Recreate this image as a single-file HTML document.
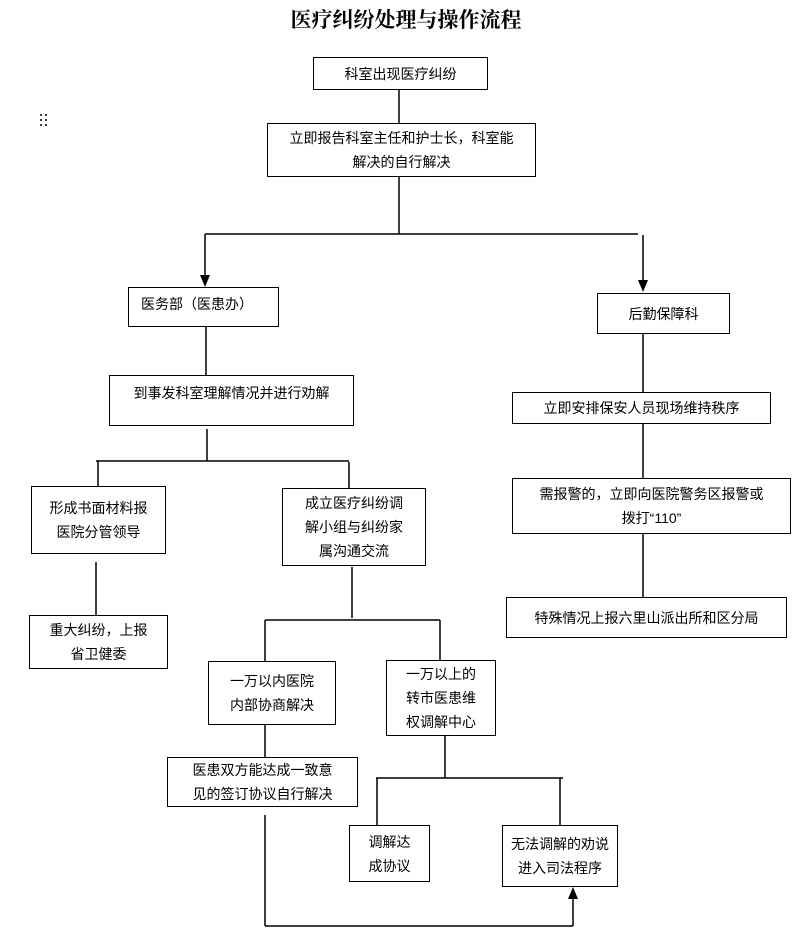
<!DOCTYPE html>
<html><head><meta charset="utf-8"><style>
body{margin:0;width:812px;height:932px;background:#fff;position:relative;overflow:hidden;font-family:"Liberation Sans","Noto Sans CJK SC","WenQuanYi Zen Hei",sans-serif;}
.b{position:absolute;border:1.5px solid #000;box-sizing:border-box;display:flex;align-items:center;justify-content:center;text-align:center;font-size:14px;line-height:24px;color:#000;background:#fff;}
.t{position:absolute;left:0;width:812px;top:4px;text-align:center;font-family:"Liberation Serif","Noto Serif CJK SC",serif;font-weight:bold;font-size:21px;}
svg{position:absolute;left:0;top:0;z-index:2;pointer-events:none;}
</style></head><body>
<div class="t">医疗纠纷处理与操作流程</div>
<div class="b" style="left:313px;top:57px;width:175px;height:33px;">科室出现医疗纠纷</div>
<div class="b" style="left:267px;top:123px;width:269px;height:54px;">立即报告科室主任和护士长，科室能<br>解决的自行解决</div>
<div class="b" style="left:128px;top:287px;width:151px;height:40px;justify-content:flex-start;padding-left:12px;align-items:flex-start;padding-top:4px;">医务部（医患办）</div>
<div class="b" style="left:597px;top:293px;width:133px;height:41px;">后勤保障科</div>
<div class="b" style="left:109px;top:375px;width:245px;height:51px;align-items:flex-start;padding-top:5px;">到事发科室理解情况并进行劝解</div>
<div class="b" style="left:31px;top:486px;width:135px;height:68px;">形成书面材料报<br>医院分管领导</div>
<div class="b" style="left:282px;top:488px;width:144px;height:78px;">成立医疗纠纷调<br>解小组与纠纷家<br>属沟通交流</div>
<div class="b" style="left:29px;top:615px;width:139px;height:54px;">重大纠纷，上报<br>省卫健委</div>
<div class="b" style="left:208px;top:661px;width:128px;height:64px;">一万以内医院<br>内部协商解决</div>
<div class="b" style="left:386px;top:660px;width:110px;height:76px;">一万以上的<br>转市医患维<br>权调解中心</div>
<div class="b" style="left:167px;top:757px;width:191px;height:50px;">医患双方能达成一致意<br>见的签订协议自行解决</div>
<div class="b" style="left:349px;top:825px;width:81px;height:57px;">调解达<br>成协议</div>
<div class="b" style="left:502px;top:825px;width:116px;height:62px;">无法调解的劝说<br>进入司法程序</div>
<div class="b" style="left:512px;top:392px;width:259px;height:32px;">立即安排保安人员现场维持秩序</div>
<div class="b" style="left:512px;top:478px;width:279px;height:56px;">需报警的，立即向医院警务区报警或<br>拨打“110”</div>
<div class="b" style="left:506px;top:597px;width:281px;height:41px;">特殊情况上报六里山派出所和区分局</div>
<svg width="812" height="932">
<g stroke="#000" stroke-width="1.5" fill="none">
<line x1="399" y1="89" x2="399" y2="123"/>
<line x1="399" y1="176" x2="399" y2="234"/>
<line x1="205" y1="234" x2="638" y2="234"/>
<line x1="205" y1="234" x2="205" y2="278"/>
<line x1="643" y1="235" x2="643" y2="282"/>
<line x1="206" y1="326" x2="206" y2="375"/>
<line x1="207" y1="429" x2="207" y2="461"/>
<line x1="96" y1="461" x2="349" y2="461"/>
<line x1="98" y1="461" x2="98" y2="486"/>
<line x1="349" y1="462" x2="349" y2="488"/>
<line x1="96" y1="562" x2="96" y2="615"/>
<line x1="352" y1="567" x2="352" y2="618"/>
<line x1="265" y1="620" x2="440" y2="620"/>
<line x1="265" y1="620" x2="265" y2="661"/>
<line x1="440" y1="620" x2="440" y2="660"/>
<line x1="265" y1="724" x2="265" y2="757"/>
<line x1="445" y1="735" x2="445" y2="778"/>
<line x1="376" y1="778" x2="563" y2="778"/>
<line x1="377" y1="778" x2="377" y2="825"/>
<line x1="560" y1="778" x2="560" y2="825"/>
<line x1="265" y1="815" x2="265" y2="926"/>
<line x1="265" y1="926" x2="573" y2="926"/>
<line x1="573" y1="926" x2="573" y2="897"/>
<line x1="643" y1="333" x2="643" y2="392"/>
<line x1="643" y1="423" x2="643" y2="478"/>
<line x1="643" y1="533" x2="643" y2="597"/>
</g>
<g fill="#000">
<polygon points="200,275 210,275 205,287"/>
<polygon points="638,280 648,280 643,292"/>
<polygon points="568,899 578,899 573,887"/>
<circle cx="41" cy="115" r="1"/><circle cx="46" cy="115" r="1"/>
<circle cx="41" cy="120" r="1"/><circle cx="46" cy="120" r="1"/>
<circle cx="41" cy="125" r="1"/><circle cx="46" cy="125" r="1"/>
</g>
</svg>
</body></html>
